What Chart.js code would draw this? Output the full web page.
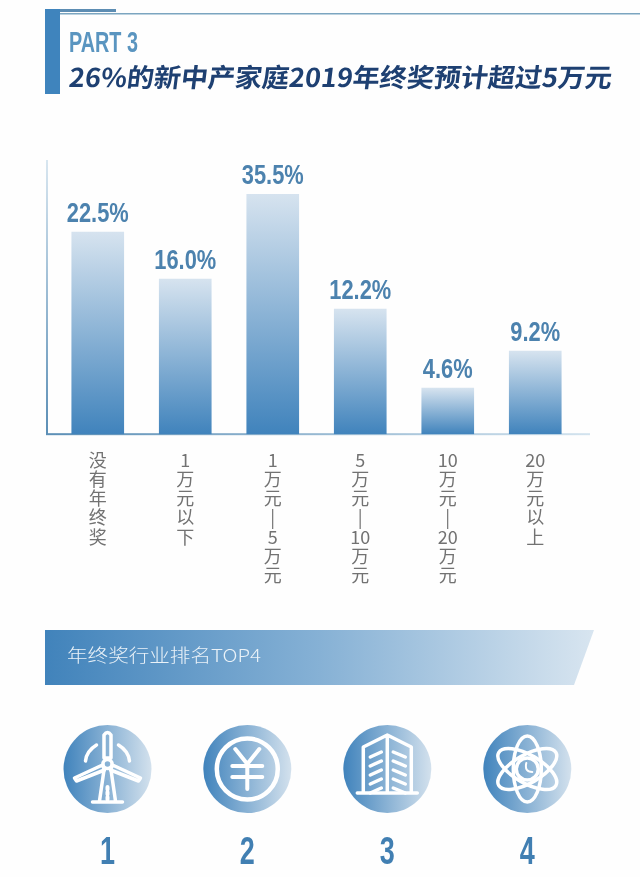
<!DOCTYPE html>
<html>
<head>
<meta charset="utf-8">
<script src="https://cdn.jsdelivr.net/npm/chart.js@4/dist/chart.umd.js"></script>
<style>
html, body { margin: 0; padding: 0; background: #fefefe; }
#wrap { position: relative; width: 640px; height: 877px; overflow: hidden; }
#bars, #art { position: absolute; left: 0; top: 0; }
text { font-family: "Noto Sans CJK SC", sans-serif; }
.num { font-family: "Liberation Sans", sans-serif; font-weight: 700; fill: #417fb2; }
</style>
</head>
<body>
<div id="wrap">
<canvas id="bars" width="640" height="877"></canvas>
<svg id="art" width="640" height="877" xmlns="http://www.w3.org/2000/svg"></svg>
</div>
<script>
var categories = ['没有年终奖', '1万元以下', '1万元—5万元', '5万元—10万元', '10万元—20万元', '20万元以上'];
var values = [22.5, 16.0, 35.5, 12.2, 4.6, 9.2];

// the bars in the picture are not proportional to their numbers, so the y axis
// is stretched: value -> bar length as measured on the picture
var axisValues = [0, 4.6, 9.2, 12.2, 16.0, 22.5, 35.5];
var axisLengths = [0, 46, 83, 125, 155, 202, 240];

var title = '26%的新中产家庭2019年终奖预计超过5万元';
var partLabel = 'PART 3';
var bannerLabel = '年终奖行业排名TOP4';
var rankLabels = ['1', '2', '3', '4'];

class StretchedScale extends Chart.LinearScale {
    getPixelForValue(value) {
        var i = 1;
        while (i < axisValues.length - 1 && value > axisValues[i]) i++;
        var t = (value - axisValues[i - 1]) / (axisValues[i] - axisValues[i - 1]);
        var length = axisLengths[i - 1] + t * (axisLengths[i] - axisLengths[i - 1]);
        return this.getPixelForDecimal(length / axisLengths[axisLengths.length - 1]);
    }
}
StretchedScale.id = 'stretched';
StretchedScale.defaults = Chart.LinearScale.defaults;
Chart.register(StretchedScale);

function barGradient(c) {
    if (!c.parsed || !c.chart.chartArea) return '#7fabd0';
    var y = c.chart.scales.y;
    var g = c.chart.ctx.createLinearGradient(0, y.getPixelForValue(c.parsed.y), 0, y.bottom);
    g.addColorStop(0, '#d6e3ef');
    g.addColorStop(1, '#4083bc');
    return g;
}

// axis lines run past the plot area, value labels are squeezed to the narrow look
var axisLines = {
    id: 'axisLines',
    beforeDatasetsDraw: function (chart) {
        var ctx = chart.ctx, base = chart.scales.y.bottom;
        var h = ctx.createLinearGradient(46, 0, 590, 0);
        h.addColorStop(0, '#5c8fb6');
        h.addColorStop(1, '#d3e3ee');
        var v = ctx.createLinearGradient(0, 160, 0, base);
        v.addColorStop(0, '#d8e6f0');
        v.addColorStop(1, '#5c8fb6');
        ctx.fillStyle = h;
        ctx.fillRect(46, base - 1, 544, 2);
        ctx.fillStyle = v;
        ctx.fillRect(46, 160, 2, base - 160);
    }
};

var valueLabels = {
    id: 'valueLabels',
    afterDatasetsDraw: function (chart) {
        var ctx = chart.ctx;
        ctx.save();
        ctx.font = 'bold 28px "Liberation Sans", sans-serif';
        ctx.fillStyle = '#4c82ae';
        ctx.textAlign = 'center';
        ctx.textBaseline = 'alphabetic';
        chart.getDatasetMeta(0).data.forEach(function (bar, i) {
            ctx.save();
            ctx.translate(bar.x, bar.y - 10);
            ctx.scale(0.78, 1);
            ctx.fillText(values[i].toFixed(1) + '%', 0, 0);
            ctx.restore();
        });
        ctx.restore();
    }
};

new Chart(document.getElementById('bars').getContext('2d'), {
    type: 'bar',
    data: {
        labels: categories.map(function (c) {
            return c.match(/\d+|./g).map(function (s) { return s === '—' ? '|' : s; });
        }),
        datasets: [{
            data: values,
            backgroundColor: barGradient,
            barThickness: 52
        }]
    },
    options: {
        responsive: false,
        animation: false,
        events: [],
        layout: { padding: { left: 54, right: 61, top: 194, bottom: 276 } },
        plugins: { legend: { display: false }, tooltip: { enabled: false } },
        scales: {
            x: {
                grid: { display: false, drawTicks: false },
                border: { display: false },
                ticks: {
                    padding: 16,
                    maxRotation: 0,
                    autoSkip: false,
                    color: '#727272',
                    font: { family: '"Noto Sans CJK SC", sans-serif', size: 18, weight: 400, lineHeight: 1.07 }
                }
            },
            y: { type: 'stretched', display: false, min: 0, max: 35.5 }
        }
    },
    plugins: [axisLines, valueLabels]
});

// everything around the chart: header, banner, rank icons
var centers = [107.5, 247.3, 387.3, 527.3];

function yen(x) {
    return '<circle cx="' + x + '" cy="769" r="30.5" stroke-width="4.5"/>' +
        '<path stroke-width="4" d="M' + (x - 12) + ' 749 L' + x + ' 764 L' + (x + 12) + ' 749 M' + x + ' 764 V789 M' + (x - 15) + ' 766 H' + (x + 15) + ' M' + (x - 15) + ' 777 H' + (x + 15) + '"/>';
}

function turbine(x) {
    return '<circle cx="' + x + '" cy="764" r="4.5"/>' +
        '<path d="M' + (x - 3.5) + ' 758 V735 Q' + x + ' 730 ' + (x + 3.5) + ' 735 V758 Z"/>' +
        '<path d="M' + (x - 5) + ' 765 L' + (x - 33) + ' 778 L' + (x - 31) + ' 781 L' + (x - 3) + ' 770 Z"/>' +
        '<path d="M' + (x + 5) + ' 765 L' + (x + 33) + ' 778 L' + (x + 31) + ' 781 L' + (x + 3) + ' 770 Z"/>' +
        '<path d="M' + (x - 3.5) + ' 770 L' + (x - 8) + ' 801 M' + (x + 3.5) + ' 770 L' + (x + 8) + ' 801 M' + (x - 15) + ' 802 H' + (x + 15) + '"/>' +
        '<path d="M' + (x - 22) + ' 761 Q' + (x - 21) + ' 751 ' + (x - 11) + ' 745 M' + (x + 22) + ' 761 Q' + (x + 21) + ' 751 ' + (x + 11) + ' 745"/>' +
        '<path stroke-dasharray="2.5 2.5" stroke-width="4" d="M' + x + ' 787 V800"/>';
}

function building(x) {
    var s = '<path d="M' + (x - 24) + ' 793 V747 L' + x + ' 735 L' + (x + 24) + ' 747 V793 M' + x + ' 735 V793 M' + (x - 30) + ' 793 H' + (x + 30) + '"/>';
    for (var i = 0; i < 5; i++) {
        var y = 752 + i * 9;
        s += '<path d="M' + (x - 17) + ' ' + (y + 5) + ' L' + (x - 6) + ' ' + y + ' M' + (x + 6) + ' ' + y + ' L' + (x + 18) + ' ' + (y + 5) + '"/>';
    }
    return s;
}

function atom(x) {
    var s = '';
    [30, 90, 150].forEach(function (r) {
        s += '<ellipse cx="' + x + '" cy="769" rx="33" ry="14" transform="rotate(' + r + ' ' + x + ' 769)"/>';
    });
    return s + '<circle cx="' + x + '" cy="769" r="11"/><path stroke-width="2" d="M' + (x - 1) + ' 763 Q' + (x - 3) + ' 772 ' + (x + 5) + ' 772"/>';
}

var icons = [turbine, yen, building, atom];

var svg = '<defs>' +
    '<linearGradient id="band"><stop offset="0" stop-color="#4183bb"/><stop offset="0.5" stop-color="#86b1d5"/><stop offset="1" stop-color="#d8e5f0"/></linearGradient>' +
    '<linearGradient id="disc"><stop offset="0" stop-color="#4083bc"/><stop offset="1" stop-color="#d3e1ed"/></linearGradient>' +
    '</defs>' +
    '<rect x="60" y="13" width="580" height="1.5" fill="#7ba5c0"/>' +
    '<rect x="45" y="9" width="71" height="3" fill="#5d8db3"/>' +
    '<rect x="45" y="9" width="15" height="85" fill="#3f84bd"/>' +
    '<text class="num" x="69" y="52" font-size="30" textLength="69" lengthAdjust="spacingAndGlyphs" style="fill:#5a95c0">' + partLabel + '</text>' +
    '<g transform="translate(68 87) skewX(-7)"><text x="0" y="0" font-size="26" font-weight="700" fill="#1e4072" textLength="543" lengthAdjust="spacingAndGlyphs">' + title + '</text></g>' +
    '<path d="M45 630 H594 L574 685 H45 Z" fill="url(#band)"/>' +
    '<text x="67" y="662" font-size="18" font-weight="300" fill="#eaf2f8" textLength="194" lengthAdjust="spacingAndGlyphs">' + bannerLabel + '</text>';

centers.forEach(function (x, i) {
    svg += '<circle cx="' + x + '" cy="769" r="44" fill="url(#disc)"/>' +
        '<g fill="none" stroke="#fff" stroke-width="3.5" stroke-linecap="round" stroke-linejoin="round">' + icons[i](x) + '</g>' +
        '<text class="num" x="' + (x - 7.5) + '" y="864" font-size="39" textLength="15" lengthAdjust="spacingAndGlyphs">' + rankLabels[i] + '</text>';
});

document.getElementById('art').innerHTML = svg;
</script>
</body>
</html>
